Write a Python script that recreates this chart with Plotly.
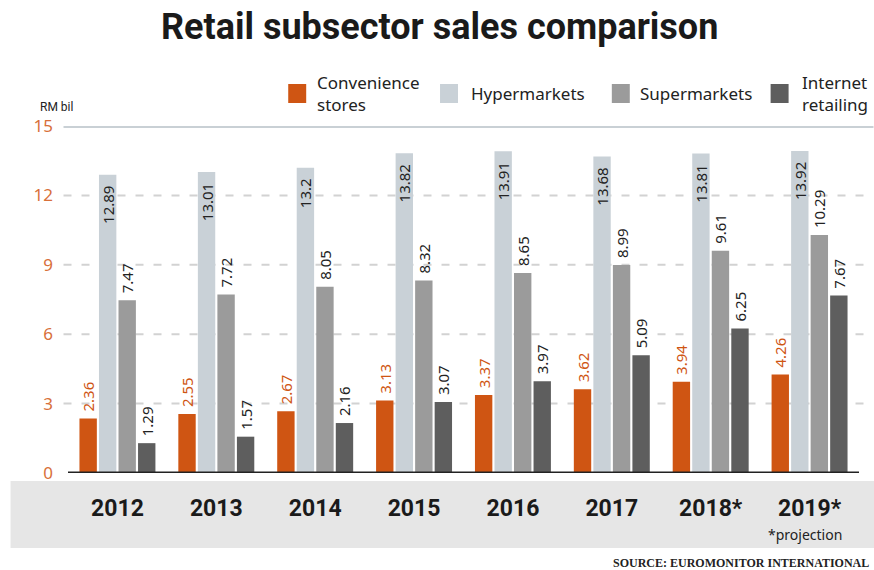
import plotly.graph_objects as go

# Retail subsector sales, RM bil
years = ["2012", "2013", "2014", "2015", "2016", "2017", "2018*", "2019*"]
convenience = [2.36, 2.55, 2.67, 3.13, 3.37, 3.62, 3.94, 4.26]
hypermarkets = [12.89, 13.01, 13.2, 13.82, 13.91, 13.68, 13.81, 13.92]
supermarkets = [7.47, 7.72, 8.05, 8.32, 8.65, 8.99, 9.61, 10.29]
internet = [1.29, 1.57, 2.16, 3.07, 3.97, 5.09, 6.25, 7.67]
y_ticks = [0, 3, 6, 9, 12, 15]

ORANGE = "#cf5513"
HYPER = "#c9d1d7"
SUPER = "#9b9b9b"
NET = "#5e5e5e"
TICK_ORANGE = "#d8703a"

W, H = 874, 570
L, R, T, B = 67.5, 859.5, 126, 473  # plot area in pixels
NUM = "Noto Sans"
COND = "Roboto"


def px(x):
    return (x - L) / (R - L)


def py(y):
    return (B - y) / (B - T)


def fmt(v):
    return f"{v:g}"


fig = go.Figure()

series = [
    ("Convenience stores", convenience, ORANGE, "outside", ORANGE),
    ("Hypermarkets", hypermarkets, HYPER, "inside", "#222222"),
    ("Supermarkets", supermarkets, SUPER, "outside", "#222222"),
    ("Internet retailing", internet, NET, "outside", "#222222"),
]
for name, vals, color, pos, tcolor in series:
    if pos == "inside":
        labels = [fmt(v) + "\u00a0\u00a0" for v in vals]
    else:
        labels = ["\u00a0" + fmt(v) for v in vals]
    fig.add_trace(go.Bar(
        x=years, y=vals, name=name, marker=dict(color=color, line=dict(width=0)),
        text=labels, textposition=pos, textangle=-90,
        insidetextanchor="end", constraintext="none", cliponaxis=False,
        textfont=dict(family=NUM, size=15, color=tcolor),
        showlegend=False,
    ))

shapes = []
# grey band behind the year labels
shapes.append(dict(type="rect", xref="paper", yref="paper",
                   x0=px(10), x1=px(880), y0=py(481), y1=py(548),
                   fillcolor="#e6e6e6", line=dict(width=0), layer="below"))
# dashed gridlines
for v in y_ticks[1:-1]:
    shapes.append(dict(type="line", xref="paper", yref="y",
                       x0=px(63), x1=px(874), y0=v, y1=v,
                       line=dict(color="#d2d2d2", width=2, dash="8px,10px"),
                       layer="below"))
# top rule at 15
shapes.append(dict(type="line", xref="paper", yref="y",
                   x0=px(63), x1=px(874), y0=15, y1=15,
                   line=dict(color="#c9d0d5", width=4), layer="below"))
# baseline
shapes.append(dict(type="line", xref="x", yref="y",
                   x0=-0.5, x1=7.5, y0=0, y1=0,
                   line=dict(color="#222222", width=3), layer="above"))

annotations = []
# legend
legend_items = [
    (288, ORANGE, "Convenience<br>stores", 315),
    (440, HYPER, "Hypermarkets", 469),
    (612, SUPER, "Supermarkets", 638),
    (771, NET, "Internet<br>retailing", 800),
]
for sx, col, txt, tx in legend_items:
    shapes.append(dict(type="rect", xref="paper", yref="paper",
                       x0=px(sx), x1=px(sx + 18), y0=py(84), y1=py(103),
                       fillcolor=col, line=dict(width=0)))
    annotations.append(dict(xref="paper", yref="paper", x=px(tx), y=py(93),
                            xanchor="left", yanchor="middle", align="left",
                            text=txt, showarrow=False,
                            font=dict(family=NUM, size=17, color="#222222")))

annotations.append(dict(xref="paper", yref="paper", x=px(439), y=py(27),
                        xanchor="center", yanchor="middle",
                        text="<b>Retail subsector sales comparison</b>",
                        showarrow=False,
                        font=dict(family="Roboto", size=36, color="#1a1a1a")))
annotations.append(dict(xref="paper", yref="paper", x=px(37), y=py(107),
                        xanchor="left", yanchor="middle", text="RM bil",
                        showarrow=False,
                        font=dict(family=COND, size=12, color="#222222")))
annotations.append(dict(xref="paper", yref="paper", x=px(805), y=py(534),
                        xanchor="center", yanchor="middle", text="*projection",
                        showarrow=False,
                        font=dict(family=NUM, size=14, color="#222222")))
annotations.append(dict(xref="paper", yref="paper", x=px(872), y=py(563),
                        xanchor="right", yanchor="middle",
                        text="<b>SOURCE: EUROMONITOR INTERNATIONAL</b>",
                        showarrow=False,
                        font=dict(family="Liberation Serif", size=12, color="#222222")))

fig.update_layout(
    width=W, height=H,
    margin=dict(l=L, r=W - R, t=T, b=H - B, pad=0),
    paper_bgcolor="white", plot_bgcolor="white",
    barmode="group", bargap=0.21, bargroupgap=0.11,
    uniformtext=dict(minsize=15, mode="show"),
    shapes=shapes, annotations=annotations,
    xaxis=dict(type="category", range=[-0.5, 7.5], showgrid=False,
               showline=False, ticks="", zeroline=False,
               tickfont=dict(family=COND, size=23, color="#1a1a1a"),
               tickprefix="<b>", ticksuffix="</b>",
               ticklabelstandoff=19),
    yaxis=dict(range=[0, 15], tickvals=y_ticks, showgrid=False,
               showline=False, zeroline=False, ticks="",
               tickfont=dict(family=NUM, size=17, color=TICK_ORANGE),
               ticklabelstandoff=14),
)

fig.write_html("out.html")
